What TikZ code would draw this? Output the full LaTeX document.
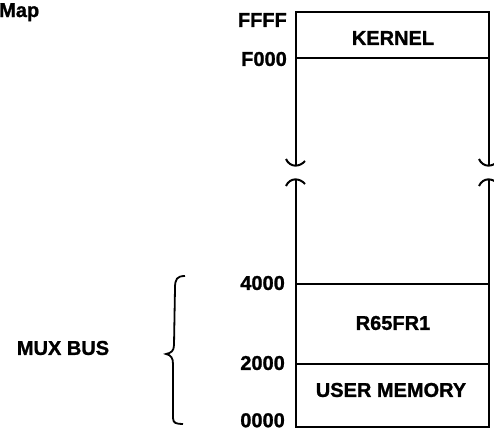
\documentclass[tikz,border=0pt]{standalone}
\usepackage{fontspec}
\setmainfont{Liberation Sans}[BoldFeatures={FakeBold=1.2}]
\begin{document}
\begin{tikzpicture}[x=1pt,y=-1pt,
    lbl/.style={font=\bfseries\fontsize{20}{22}\selectfont,inner sep=0pt},
    wall/.style={line width=2pt}]
  \useasboundingbox (0,0) rectangle (494,431);
  % memory column
  \coordinate (tl) at (296,12);
  \coordinate (tr) at (489,12);
  \coordinate (bl) at (296,427);
  \coordinate (br) at (489,427);
  \draw[wall] (296,165) -- (tl) -- (tr) -- (489,165);
  \draw[wall] (296,180) -- (bl) -- (br) -- (489,180);
  \draw[wall] (296,58) -- (489,58);
  \draw[wall] (296,284) -- (489,284);
  \draw[wall] (296,364) -- (489,364);
  % break marks
  \foreach \x in {296,489} {
    \draw[wall] (\x-10,159) .. controls (\x-6,168) and (\x+4,167) .. (\x+9,161);
    \draw[wall] (\x-10,186) .. controls (\x-6,177) and (\x+4,178) .. (\x+9,184);
  }
  % section names
  \node[lbl] (kernel) at (393,38) {KERNEL};
  \node[lbl] (r65) at (393,323) {R65FR1};
  \node[lbl] (user) at (391,390) {USER MEMORY};
  % addresses
  \node[lbl,anchor=east] (ffff) at (287,20) {FFFF};
  \node[lbl,anchor=east] (f000) at (287,59) {F000};
  \node[lbl,anchor=east] (a4000) at (285,283) {4000};
  \node[lbl,anchor=east] (a2000) at (285,363) {2000};
  \node[lbl,anchor=north east] (a0000) at (285,413) {0000};
  % title and bus
  \node[lbl,anchor=base west] (title) at (-1,17) {Map};
  \node[lbl] (mux) at (63,348) {MUX BUS};
  \draw[line width=1.8pt] (185,276) .. controls (177,276) and (175,279) .. (175,288)
    -- (174,345) .. controls (174,351) and (171,353) .. (166,354)
    .. controls (171,355) and (173,358) .. (173,364)
    -- (173,418) .. controls (173,423) and (176,424) .. (183,424);
\end{tikzpicture}
\end{document}
